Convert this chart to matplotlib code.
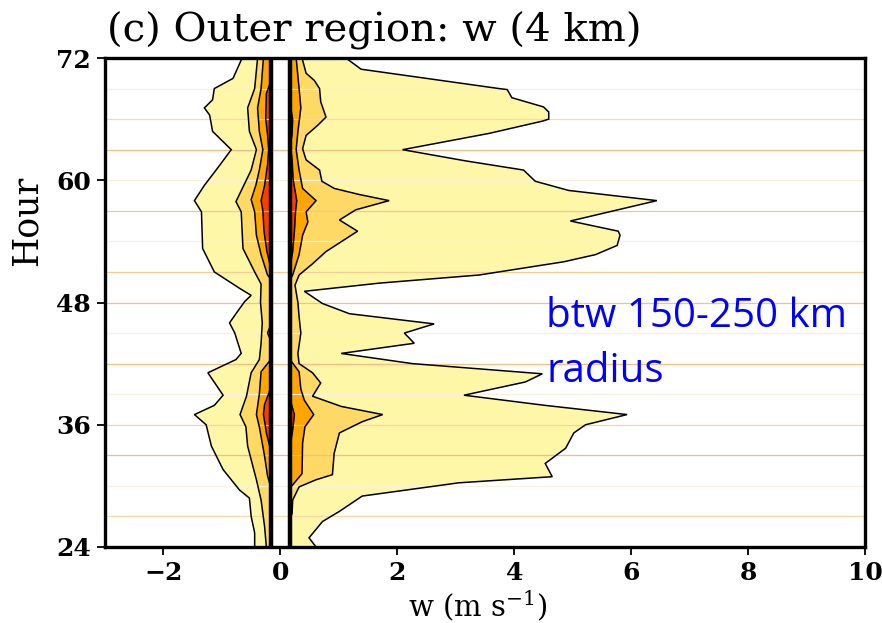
import matplotlib
matplotlib.use("Agg")
import matplotlib.pyplot as plt

# ---------------- data (hour, w in m/s) ----------------
# zero bin (white gap bounded by thick black contours)
gap_bounds = [-0.165, 0.165]

# level 1 (lightest, outermost)
L1_left_h = [72, 71.8, 70, 69, 67.9, 67.1, 66.4, 64.8, 63, 61, 59.5, 58, 56.9, 53.3, 51, 49.4, 48.7, 48.1,
             46.9, 46, 45, 43, 42.4, 41.1, 38.9, 37.9, 37, 36, 33.9, 31.6, 29.6, 28.8, 27, 25.4, 24]
L1_left_w = [-0.63, -0.67, -0.81, -1.13, -1.16, -1.30, -1.21, -1.16, -0.84, -1.10, -1.30, -1.47, -1.35, -1.33,
             -1.13, -0.70, -0.50, -0.61, -0.76, -0.87, -0.78, -0.67, -0.76, -1.24, -0.98, -1.13, -1.47, -1.27,
             -1.18, -0.98, -0.70, -0.53, -0.50, -0.44, -0.44]
L1_right_h = [72, 70.9, 69.0, 68.9, 68.1, 67.2, 66.7, 66.0, 65.8, 64.6, 63.0, 61.9, 61.0, 59.9, 59.0, 58.0,
              56.0, 55.0, 54.6, 53.6, 52.7, 52.0, 50.7, 49.9, 49.1, 47.9, 46.9, 45.9, 45.0, 44.0, 43.0, 42.0,
              41.0, 40.2, 38.9, 37.9, 37.0, 36.0, 35.2, 33.7, 32.2, 30.9, 30.3, 29.0, 27.5, 26.5, 24.9, 24.0]
L1_right_w = [1.12, 1.38, 3.74, 3.88, 3.96, 4.50, 4.59, 4.59, 4.48, 3.57, 2.09, 3.17, 4.16, 4.36, 4.93, 6.44,
              4.96, 5.78, 5.81, 5.76, 5.39, 4.85, 3.40, 1.69, 0.41, 0.72, 1.18, 2.63, 2.12, 2.29, 1.04, 2.26,
              4.48, 4.19, 3.14, 4.53, 5.93, 5.22, 5.02, 4.88, 4.53, 4.65, 3.05, 1.40, 1.01, 0.72, 0.49, 0.61]

# level 2
L2_left_h = [72, 69, 67.1, 64.8, 63, 61, 57.9, 56.9, 53.3, 51, 49.8, 48, 46, 44, 42.4, 41.1, 38.8, 37,
             35.8, 33.9, 30.6, 28.6, 26, 24]
L2_left_w = [-0.39, -0.44, -0.56, -0.53, -0.41, -0.50, -0.76, -0.67, -0.64, -0.44, -0.33, -0.34, -0.31, -0.33,
             -0.36, -0.50, -0.58, -0.69, -0.59, -0.56, -0.41, -0.33, -0.27, -0.24]
L2_right_h = [72, 70.5, 69.8, 69, 67.7, 66.2, 65.4, 64.4, 63.1, 62, 61, 59.9, 59.2, 58.6, 58, 57.1, 56.1, 55,
              53, 51.8, 50.7, 49.7, 48, 46.6, 45, 43, 42, 41.1, 40.1, 38.8, 37.8, 37, 36.3, 35.2, 33.2, 31.1,
              30.6, 29.9, 28.6, 27.3, 26.8]
L2_right_w = [0.37, 0.44, 0.58, 0.67, 0.69, 0.78, 0.64, 0.44, 0.38, 0.44, 0.67, 0.71, 0.92, 1.35, 1.86, 1.29,
              1.01, 1.32, 0.78, 0.55, 0.32, 0.25, 0.30, 0.32, 0.35, 0.30, 0.32, 0.55, 0.69, 0.55, 1.04, 1.75,
              1.40, 1.01, 0.92, 0.89, 0.61, 0.32, 0.21, 0.20, 0.165]

# level 3 (several separate patches)
L3_left = [
    ([72, 69, 67.1, 64.8, 63, 61, 59.5, 58.1, 56.9, 54.6, 52.7, 50.7, 50.3],
     [-0.29, -0.33, -0.39, -0.36, -0.30, -0.36, -0.42, -0.50, -0.44, -0.41, -0.33, -0.22, -0.165]),
    ([45.8, 45, 44.3], [-0.165, -0.22, -0.165]),
    ([42.4, 41.2, 39, 37, 35.8, 32.9, 31, 29.9],
     [-0.165, -0.33, -0.36, -0.41, -0.36, -0.27, -0.22, -0.165]),
]
L3_right = [
    ([72, 69, 67.1, 64.8, 63, 61, 59.2, 58, 56.9, 55.9, 54.6, 52.7, 50.7, 50.2],
     [0.27, 0.32, 0.35, 0.30, 0.27, 0.32, 0.38, 0.61, 0.44, 0.47, 0.38, 0.32, 0.21, 0.165]),
    ([42.4, 41.2, 39.5, 38.4, 37, 35.8, 34.2, 31.2, 30.1, 29.8],
     [0.165, 0.32, 0.35, 0.41, 0.57, 0.42, 0.38, 0.37, 0.21, 0.165]),
]

# level 4 (innermost, red)
L4_left = [
    ([69.7, 68.5, 66, 64.5, 63, 61.5, 59.5, 58, 57, 55, 53, 51.4],
     [-0.165, -0.24, -0.25, -0.22, -0.20, -0.22, -0.27, -0.33, -0.30, -0.28, -0.23, -0.165]),
    ([39.6, 38, 37, 36, 35.2, 33.5], [-0.165, -0.27, -0.29, -0.26, -0.24, -0.165]),
]
L4_right = [
    ([67.5, 66, 64.5, 63.5, 62, 60, 58, 57, 55, 53, 51.5],
     [0.165, 0.21, 0.20, 0.17, 0.20, 0.22, 0.28, 0.26, 0.24, 0.21, 0.165]),
    ([38.5, 37, 35.5, 33.8], [0.165, 0.24, 0.21, 0.165]),
]

level_colors = ['#FFF7A8', '#FFD966', '#FFA500', '#FF3C00']

# faint horizontal guide lines
guide_hours = [69, 66, 63, 60, 57, 54, 51, 48, 45, 42, 39, 36, 33, 30, 27]
guide_colors = ['#F7EEDF', '#F9D9AC', '#F5BE80', '#F8F0D8', '#F5C78E', '#F8EEE2', '#F7CC96', '#F5C282',
                '#F7EEE4', '#F5C080', '#F8EEE2', '#F8D2A0', '#F5BD7C', '#F8F0E4', '#F8D8A8']

xticks = [-2, 0, 2, 4, 6, 8, 10]
yticks = [24, 36, 48, 60, 72]

# ---------------- plot ----------------
serif = 'DejaVu Serif'
plt.rcParams['mathtext.default'] = 'regular'
fig = plt.figure(figsize=(8.82, 6.23), dpi=100)
ax = fig.add_axes([105 / 882, 1 - 547 / 623, 760 / 882, 489 / 623])
ax.set_xlim(-3, 10)
ax.set_ylim(24, 72)


def patch(h, w, inner, color, z):
    ax.fill_betweenx(h, w, inner, color=color, lw=0, zorder=z)
    ax.plot(w, h, color='k', lw=1.1, zorder=5, solid_joinstyle='miter')


left_in, right_in = gap_bounds
patch(L1_left_h, L1_left_w, left_in, level_colors[0], 1)
patch(L1_right_h, L1_right_w, right_in, level_colors[0], 1)
patch(L2_left_h, L2_left_w, left_in, level_colors[1], 1.1)
patch(L2_right_h, L2_right_w, right_in, level_colors[1], 1.1)
for h, w in L3_left:
    patch(h, w, left_in, level_colors[2], 1.2)
for h, w in L3_right:
    patch(h, w, right_in, level_colors[2], 1.2)
for h, w in L4_left:
    patch(h, w, left_in, level_colors[3], 1.3)
for h, w in L4_right:
    patch(h, w, right_in, level_colors[3], 1.3)

for hh, cc in zip(guide_hours, guide_colors):
    ax.axhline(hh, color=cc, lw=0.9, zorder=2)

for g in gap_bounds:
    ax.axvline(g, color='k', lw=3.2, zorder=6)

ax.set_xticks(xticks)
ax.set_yticks(yticks)
ax.tick_params(direction='out', length=6, width=1.3, pad=4)
for lab in ax.get_xticklabels() + ax.get_yticklabels():
    lab.set_family(serif)
    lab.set_fontsize(18)
    lab.set_fontweight('bold')
for s in ax.spines.values():
    s.set_linewidth(2.4)
    s.set_zorder(10)

fig.text(107 / 882, 1 - 42 / 623, '(c) Outer region: w (4 km)', fontsize=29, family=serif,
         ha='left', va='baseline')
fig.text(27 / 882, 1 - 221 / 623, 'Hour', rotation=90, fontsize=25, family=serif,
         ha='center', va='center')
fig.text(478 / 882, 1 - 616 / 623, r'w (m s$^{\mathregular{-1}}$)', fontsize=21, family=serif,
         ha='center', va='baseline')

ax.text(4.55, 45.6, 'btw 150-250 km', color='#0000FF', fontsize=29, family='Open Sans',
        ha='left', va='baseline', zorder=8)
ax.text(4.55, 40.2, 'radius', color='#0000FF', fontsize=29, family='Open Sans',
        ha='left', va='baseline', zorder=8)

fig.savefig('out.png', dpi=100)
